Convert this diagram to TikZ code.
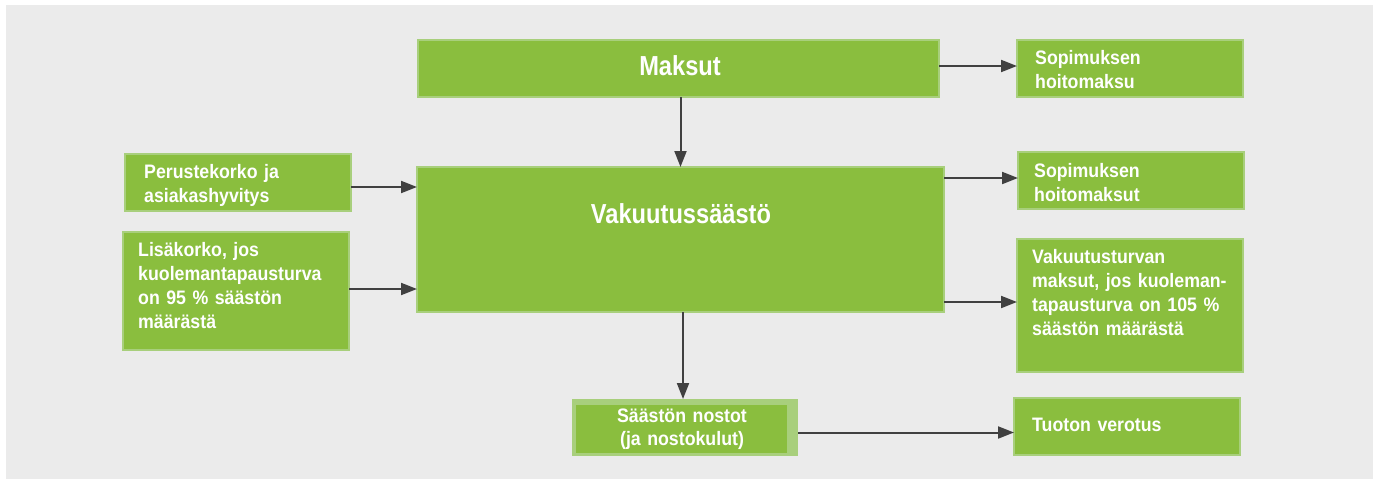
\documentclass[tikz,border=0pt]{standalone}
\usepackage{fontspec}
\setmainfont{Liberation Sans}[FakeStretch=0.91]
\newfontfamily\bigfont{Liberation Sans}[FakeStretch=0.86]
\usetikzlibrary{arrows.meta,calc}
\definecolor{bggray}{HTML}{EBEBEB}
\definecolor{boxgreen}{HTML}{8ABE3E}
\definecolor{boxedge}{HTML}{A8CF7C}
\definecolor{arrowgray}{HTML}{404040}
\begin{document}
\begin{tikzpicture}[x=1pt,y=-1pt,
  gbox/.style={draw=boxedge, line width=1.5pt, fill=boxgreen, inner sep=0pt, outer sep=0pt, anchor=north west},
  txt/.style={text=white, font=\fontsize{19.5}{24}\selectfont\bfseries, inner sep=0pt, anchor=base west, text width=230pt, align=left},
  ctxt/.style={text=white, font=\fontsize{19.5}{23}\selectfont\bfseries, inner sep=0pt, anchor=base, text width=220pt, align=center},
  bigtxt/.style={text=white, font=\bigfont\fontsize{27.5}{30}\selectfont\bfseries, inner sep=0pt, anchor=base},
  conn/.style={draw=arrowgray, line width=2pt, -{Triangle[length=16pt,width=12pt]}}]
\useasboundingbox (0,0) rectangle (1373,479);
\fill[white] (0,0) rectangle (1373,479);
\fill[bggray] (6,5) rectangle (1373,479);

% boxes
\node[gbox, minimum width=521pt, minimum height=57pt] (maksut) at (418,40) {};
\node[gbox, minimum width=226pt, minimum height=57pt] (sop1) at (1017,40) {};
\node[gbox, minimum width=226pt, minimum height=57pt] (sop2) at (1018,152) {};
\node[gbox, minimum width=226pt, minimum height=133pt] (vak) at (1017,239) {};
\node[gbox, minimum width=527pt, minimum height=145pt] (vs) at (417,167) {};
\node[gbox, minimum width=226pt, minimum height=57pt] (per) at (125,154) {};
\node[gbox, minimum width=226pt, minimum height=118pt] (lis) at (123,232) {};
\node[fill=boxedge, inner sep=0pt, outer sep=0pt, anchor=north west, minimum width=226pt, minimum height=57pt] (nost) at (572,399) {};
\node[fill=boxgreen, inner sep=0pt, outer sep=0pt, anchor=north west, minimum width=211pt, minimum height=48pt] (nostin) at (576,405) {};
\node[gbox, minimum width=226pt, minimum height=57pt] (tuo) at (1014,398) {};

% texts
\node[bigtxt] (maksut-t) at (680,75) {Maksut};
\node[bigtxt] (vs-t) at (681,223) {Vakuutussäästö};
\node[txt] (sop1-t) at (1035,64) {Sopimuksen\\hoitomaksu};
\node[txt] (sop2-t) at (1034,177) {Sopimuksen\\hoitomaksut};
\node[txt] (vak-t) at (1032,263) {Vakuutusturvan\\maksut, jos kuoleman-\\tapausturva on 105~\%\\säästön määrästä};
\node[txt] (per-t) at (144,178) {Perustekorko ja\\asiakashyvitys};
\node[txt] (lis-t) at (138,256) {Lisäkorko, jos\\kuolemantapausturva\\on 95~\% säästön\\määrästä};
\node[ctxt] (nost-t) at (682,422) {Säästön nostot\\(ja nostokulut)};
\node[txt] (tuo-t) at (1032,431) {Tuoton verotus};

% connectors
\draw[conn] ([yshift=2.5pt]maksut.east) -- ([yshift=2.5pt]sop1.west);
\draw[conn] (vs.north |- maksut.south) -- (vs.north);
\draw[conn] ([yshift=-4.5pt]per.east) -- ([yshift=-4.5pt]per.east -| vs.west);
\draw[conn] ([yshift=2pt]lis.east) -- ([yshift=2pt]lis.east -| vs.west);
\draw[conn] ([yshift=2.5pt]sop2.west -| vs.east) -- ([yshift=2.5pt]sop2.west);
\draw[conn] ([yshift=3.5pt]vak.west -| vs.east) -- ([yshift=3.5pt]vak.west);
\draw[conn] ([xshift=-2pt]nost.north |- vs.south) -- ([xshift=-2pt]nost.north);
\draw[conn] ([yshift=-6pt]tuo.west -| nost.east) -- ([yshift=-6pt]tuo.west);
\end{tikzpicture}
\end{document}
